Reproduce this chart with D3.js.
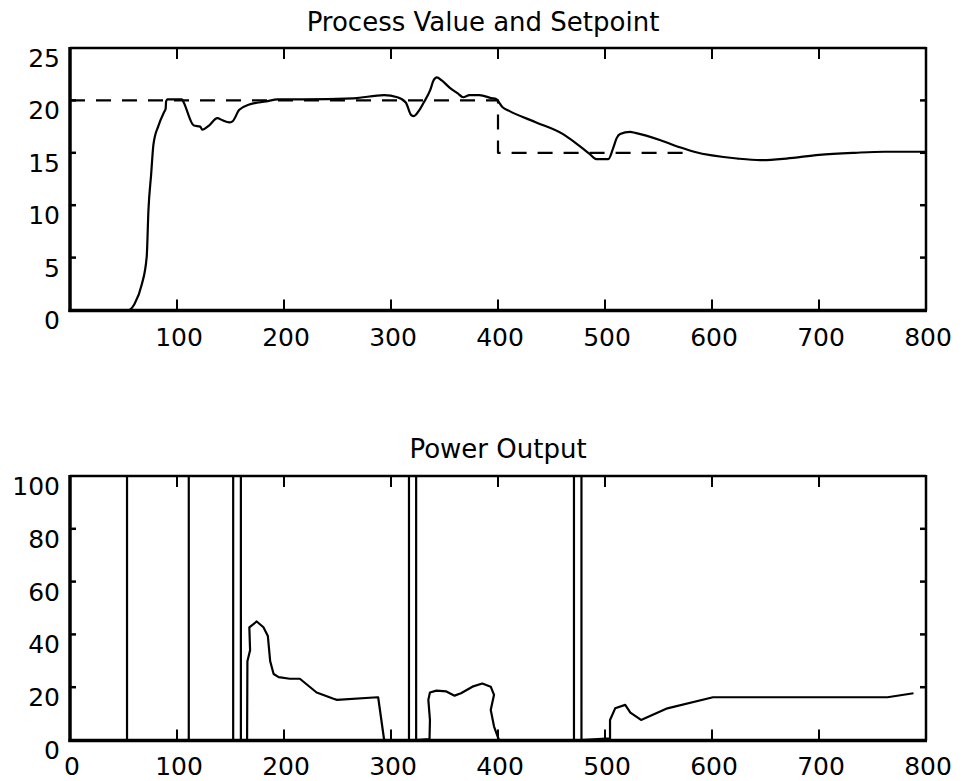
<!DOCTYPE html>
<html>
<head>
<meta charset="utf-8">
<script src="https://cdn.jsdelivr.net/npm/d3@7"></script>
<style>
  html, body { margin: 0; padding: 0; background: #fff; }
  svg { display: block; }
  text { font-family: "DejaVu Sans", sans-serif; fill: #000; }
</style>
</head>
<body>
<svg id="chart" width="963" height="781"></svg>
<script>
// ---------- data ----------
const pvTime  = [0, 55, 60.4, 67, 71.7, 73.3, 75.8, 78, 82.7, 88, 89.4, 89.8, 91, 104.7, 106.3, 115.7, 121.7, 123.6, 129.9, 137.7, 142.5, 148.8, 151.9, 158.2, 167.6, 183.3, 194.3, 218, 265, 293.5, 306, 313.8, 318.9, 321.4, 326, 330.6, 336.7, 339.7, 342.8, 347.4, 355, 362.7, 367.3, 373.4, 382.6, 394.8, 397.9, 404.3, 410.4, 435.7, 460.4, 473, 485.6, 491.8, 503.1, 507.8, 510.9, 514.1, 523.5, 528.3, 551.9, 570.7, 583.3, 624, 645.3, 669.5, 700, 733.4, 761, 800];
const pvValue = [0, 0, 0.6, 2.4, 5.1, 9.5, 12.9, 15.8, 17.6, 18.9, 19.2, 19.9, 20.1, 20.1, 19.8, 17.6, 17.5, 17.2, 17.6, 18.3, 18.1, 17.9, 18.0, 19.1, 19.6, 19.9, 20.1, 20.1, 20.2, 20.5, 20.3, 19.8, 18.6, 18.5, 19.0, 19.8, 21.0, 21.9, 22.2, 21.9, 21.2, 20.65, 20.3, 20.5, 20.5, 20.2, 20.15, 19.35, 19.0, 17.9, 16.8, 15.9, 14.9, 14.4, 14.4, 15.5, 16.4, 16.8, 17.0, 16.9, 16.2, 15.5, 15.1, 14.45, 14.3, 14.45, 14.8, 15.0, 15.1, 15.1];

const spTime  = [0, 400, 400, 580];
const spValue = [20, 20, 15, 15];

const powerTime  = [0, 53.3, 53.3, 53.3, 111, 111, 111, 152.5, 152.5, 159.7, 159.7, 165.5, 165.8, 168.3, 167.6, 174.5, 180.8, 184.9, 187.1, 190.3, 195, 205.4, 214.8, 230.5, 246.3, 249.5, 287.3, 288, 293.6, 316.8, 316.8, 323.5, 323.5, 336, 336.4, 334.9, 336.4, 342.5, 351.7, 359.4, 365.4, 376.1, 385.3, 393.2, 396.3, 393.2, 396.3, 400.9, 471, 471, 478, 478, 504.7, 504.7, 509.5, 518.9, 523.7, 533.7, 558.3, 600.9, 764, 788.3];
const powerValue = [0, 0, 100, 0, 0, 100, 0, 0, 100, 100, 0, 0, 29.8, 34, 42.7, 44.9, 42.7, 39.4, 29.8, 25, 23.8, 23.2, 23.2, 18, 15.6, 15.2, 16.2, 16.2, 0, 0, 100, 100, 0, 0.3, 7.6, 15.2, 18, 18.7, 18.4, 16.8, 17.7, 20.2, 21.4, 20.2, 17.1, 11.4, 5.1, 0, 0, 100, 100, 0, 0.6, 7.6, 12, 13.3, 10.4, 7.6, 12, 16.2, 16.2, 17.7];

const topTitle = "Process Value and Setpoint";
const bottomTitle = "Power Output";
const topYTicks = [0, 5, 10, 15, 20, 25];
const bottomYTicks = [0, 20, 40, 60, 80, 100];
const xTicksTop = [100, 200, 300, 400, 500, 600, 700, 800];
const xTicksBottom = [0, 100, 200, 300, 400, 500, 600, 700, 800];
const innerXTicks = [100, 200, 300, 400, 500, 600, 700];

// ---------- drawing ----------
const svg = d3.select("#chart");
const FS = 25;

function panel(cfg) {
  const g = svg.append("g");
  const x = d3.scaleLinear().domain([0, 800]).range([70, 926]);
  const y = d3.scaleLinear().domain(cfg.yDomain).range(cfg.yRange);
  const [yb, yt] = cfg.yRange;
  const left = x.range()[0], right = x.range()[1];
  const frameBottom = yb + 0.5;

  // data lines
  cfg.series.forEach(s => {
    const line = d3.line().x(d => x(d[0])).y(d => y(d[1]))
      .curve(s.smooth ? d3.curveMonotoneX : d3.curveLinear);
    g.append("path")
      .datum(d3.zip(s.t, s.v))
      .attr("d", line)
      .attr("fill", "none")
      .attr("stroke", "#000")
      .attr("stroke-width", 2.2)
      .attr("stroke-linejoin", "round")
      .attr("stroke-dasharray", s.dash || null);
  });

  // frame
  g.append("line").attr("x1", left).attr("x2", right).attr("y1", yt).attr("y2", yt)
    .attr("stroke", "#000").attr("stroke-width", 2.5);
  g.append("line").attr("x1", right).attr("x2", right).attr("y1", yt - 1).attr("y2", frameBottom)
    .attr("stroke", "#000").attr("stroke-width", 2.5);
  g.append("line").attr("x1", left - 1.5).attr("x2", right + 1).attr("y1", frameBottom).attr("y2", frameBottom)
    .attr("stroke", "#000").attr("stroke-width", 3.5);
  g.append("line").attr("x1", left).attr("x2", left).attr("y1", yt - 1).attr("y2", frameBottom + 1.5)
    .attr("stroke", "#000").attr("stroke-width", 3.5);

  // x ticks (inner, top and bottom)
  innerXTicks.forEach(t => {
    g.append("line").attr("x1", x(t)).attr("x2", x(t)).attr("y1", yt).attr("y2", yt + 11)
      .attr("stroke", "#000").attr("stroke-width", 2);
    g.append("line").attr("x1", x(t)).attr("x2", x(t)).attr("y1", frameBottom).attr("y2", frameBottom - 11)
      .attr("stroke", "#000").attr("stroke-width", 2);
  });
  // y ticks (inner, left and right)
  cfg.yTicks.forEach(t => {
    if (t === cfg.yDomain[1] || t === 0) return;
    g.append("line").attr("x1", left).attr("x2", left + 6).attr("y1", y(t)).attr("y2", y(t))
      .attr("stroke", "#000").attr("stroke-width", 2.5);
    g.append("line").attr("x1", right).attr("x2", right - 6).attr("y1", y(t)).attr("y2", y(t))
      .attr("stroke", "#000").attr("stroke-width", 2.5);
  });

  // y labels
  g.selectAll(null).data(cfg.yTicks).enter().append("text")
    .attr("x", 60).attr("y", d => y(d) + 19)
    .attr("text-anchor", "end")
    .attr("font-size", FS)
    .text(d => d);

  // x labels
  g.selectAll(null).data(cfg.xTicks).enter().append("text")
    .attr("x", d => x(d) + 2).attr("y", cfg.xLabelY)
    .attr("text-anchor", "middle")
    .attr("font-size", FS)
    .text(d => d);

  // title
  g.append("text")
    .attr("x", cfg.titleX).attr("y", cfg.titleY)
    .attr("text-anchor", "middle")
    .attr("font-size", 26)
    .text(cfg.title);
}

panel({
  yDomain: [0, 25], yRange: [310, 48],
  yTicks: topYTicks, xTicks: xTicksTop, xLabelY: 346,
  title: topTitle, titleX: 483, titleY: 31,
  series: [
    { t: spTime, v: spValue, dash: "15,11" },
    { t: pvTime, v: pvValue, smooth: true }
  ]
});

panel({
  yDomain: [0, 100], yRange: [740, 476],
  yTicks: bottomYTicks, xTicks: xTicksBottom, xLabelY: 775,
  title: bottomTitle, titleX: 498, titleY: 458,
  series: [
    { t: powerTime, v: powerValue }
  ]
});
</script>
</body>
</html>
